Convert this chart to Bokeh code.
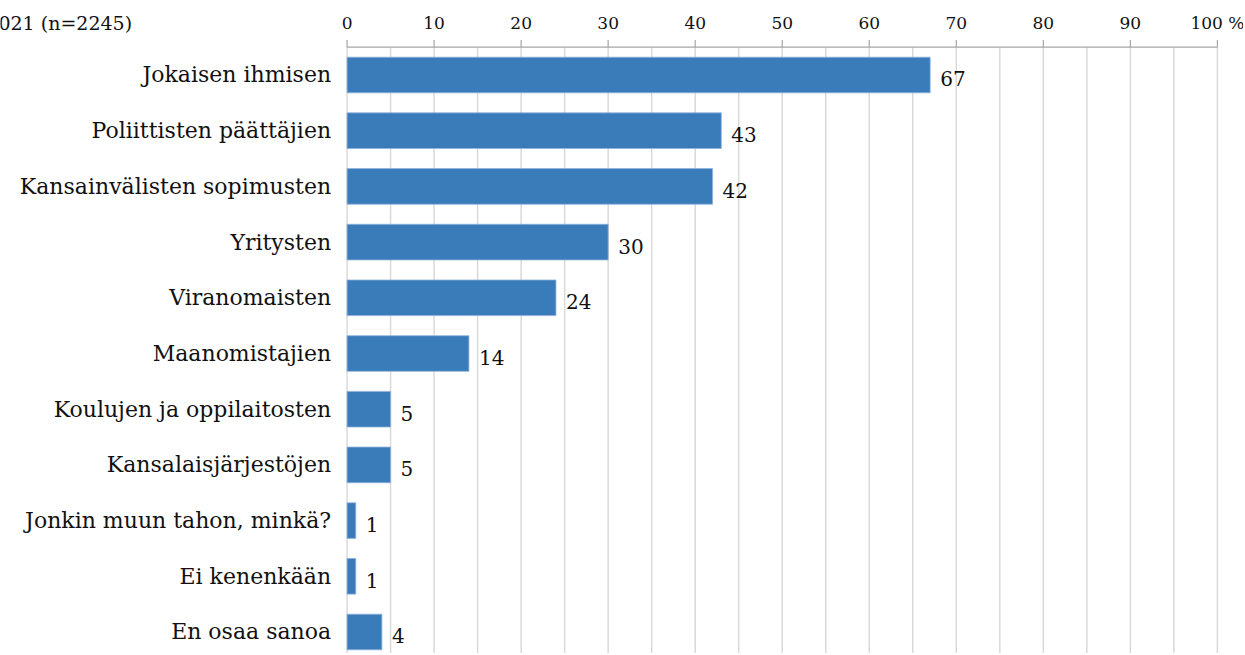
from bokeh.plotting import figure
from bokeh.models import Range1d, ColumnDataSource
from bokeh.core.properties import value
from bokeh.embed import file_html
from bokeh.resources import INLINE

categories = [
    "Jokaisen ihmisen",
    "Poliittisten päättäjien",
    "Kansainvälisten sopimusten",
    "Yritysten",
    "Viranomaisten",
    "Maanomistajien",
    "Koulujen ja oppilaitosten",
    "Kansalaisjärjestöjen",
    "Jonkin muun tahon, minkä?",
    "Ei kenenkään",
    "En osaa sanoa",
]
values = [67, 43, 42, 30, 24, 14, 5, 5, 1, 1, 4]
x_ticks = list(range(0, 101, 10))
x_tick_labels = [str(t) for t in x_ticks[:-1]] + ["100 %"]
grid_ticks = list(range(0, 101, 5))
title_text = "2021 (n=2245)"

FONT = "DejaVu Serif"
BAR = "#3A7BBA"
AXIS = "#a6a6a6"
GRID = "#d9d9d9"
TXT = "#111111"

W, H = 1243, 653
idx = list(range(len(categories)))
top_edge = -0.5                       # top of category band (axis line)
bottom_edge = len(categories) - 0.5

p = figure(
    output_backend="svg", toolbar_location=None,
    width=W, height=H, frame_width=W, frame_height=H,
    x_range=Range1d(-39.82, 103.0), y_range=Range1d(10.386, -1.3375),
    min_border=0,
)
p.axis.visible = False
p.grid.visible = False
p.outline_line_color = None

# vertical grid lines (every 5 %)
p.segment(x0=grid_ticks, x1=grid_ticks,
          y0=[top_edge] * len(grid_ticks), y1=[bottom_edge + 1] * len(grid_ticks),
          line_color=GRID, line_width=1.5)

# top axis line and ticks
p.segment(x0=[x_ticks[0]], x1=[x_ticks[-1]], y0=[top_edge], y1=[top_edge],
          line_color=AXIS, line_width=1.2)
p.segment(x0=x_ticks, x1=x_ticks,
          y0=[top_edge] * len(x_ticks), y1=[top_edge - 0.13] * len(x_ticks),
          line_color=AXIS, line_width=1.2)
p.text(x=x_ticks, y=[top_edge] * len(x_ticks), text=x_tick_labels,
       y_offset=-24, text_align="center", text_baseline="middle",
       text_font=value(FONT), text_font_size="17px", text_color=TXT)

# bars
src = ColumnDataSource(dict(y=idx, v=values, lab=[str(v) for v in values], cat=categories))
p.hbar(y="y", right="v", left=0, height=0.64, source=src,
       fill_color=BAR, line_color="#8FB3DA", line_width=0.8)

# value labels
p.text(x="v", y="y", text="lab", source=src, x_offset=10, y_offset=4,
       text_align="left", text_baseline="middle",
       text_font=value(FONT), text_font_size="20px", text_color=TXT)

# category labels
p.text(x=0, y="y", text="cat", source=src, x_offset=-16,
       text_align="right", text_baseline="middle",
       text_font=value(FONT), text_font_size="22px", text_color=TXT)

# title (cut at the left edge as in the reference)
p.text(x=[0], y=[top_edge], text=[title_text], x_offset=-215, y_offset=-24,
       text_align="right", text_baseline="middle",
       text_font=value(FONT), text_font_size="19px", text_color=TXT)

open("out.html", "w").write(file_html(p, INLINE))
